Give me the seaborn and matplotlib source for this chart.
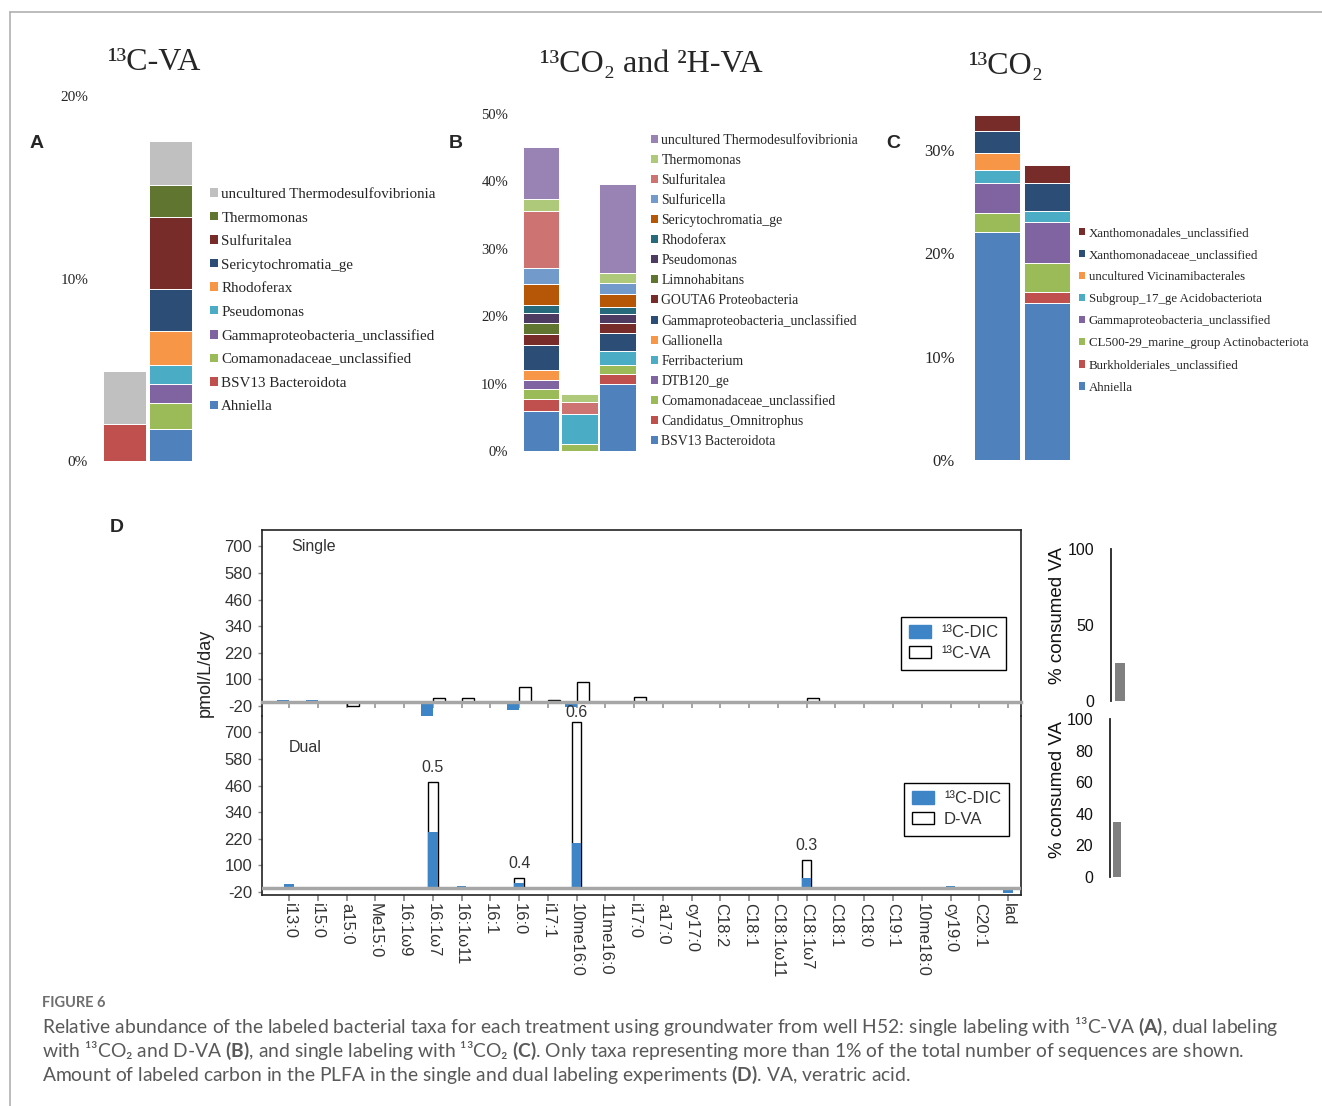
import matplotlib
matplotlib.use("Agg")
import matplotlib.pyplot as plt
from matplotlib.patches import Patch
from matplotlib.lines import Line2D
import seaborn as sns
import numpy as np

# ---------------- data ----------------
# panel A: 13C-VA
taxa_a = ["Ahniella", "BSV13 Bacteroidota", "Comamonadaceae_unclassified",
          "Gammaproteobacteria_unclassified", "Pseudomonas", "Rhodoferax",
          "Sericytochromatia_ge", "Sulfuritalea", "Thermomonas",
          "uncultured Thermodesulfovibrionia"]
a_bar1 = [0, 2.05, 0, 0, 0, 0, 0, 0, 0, 2.9]
a_bar2 = [1.75, 0, 1.45, 1.0, 1.05, 1.9, 2.3, 3.9, 1.75, 2.45]
colors_a = ["#4F81BD", "#C0504D", "#9BBB59", "#8064A2", "#4BACC6", "#F79646",
            "#2C4D75", "#772C2A", "#5F7530", "#C0C0C0"]

# panel B: 13CO2 and 2H-VA
taxa_b = ["BSV13 Bacteroidota", "Candidatus_Omnitrophus", "Comamonadaceae_unclassified",
          "DTB120_ge", "Ferribacterium", "Gallionella", "Gammaproteobacteria_unclassified",
          "GOUTA6 Proteobacteria", "Limnohabitans", "Pseudomonas", "Rhodoferax",
          "Sericytochromatia_ge", "Sulfuricella", "Sulfuritalea", "Thermomonas",
          "uncultured Thermodesulfovibrionia"]
b_bar1 = [6.0, 1.75, 1.5, 1.3, 0, 1.45, 3.7, 1.6, 1.7, 1.5, 1.1, 3.25, 2.3, 8.4, 1.9, 7.65]
b_bar2 = [0, 0, 1.1, 0, 4.35, 0, 0, 0, 0, 0, 0, 0, 0, 1.85, 1.2, 0]
b_bar3 = [9.9, 1.5, 1.3, 0, 2.15, 0, 2.6, 1.6, 0, 1.25, 1.1, 1.9, 1.7, 0, 1.4, 13.2]
colors_b = ["#4F81BD", "#C0504D", "#9BBB59", "#8064A2", "#4BACC6", "#F79646",
            "#2C4D75", "#772C2A", "#5F7530", "#4D3B62", "#276A7C", "#B65708",
            "#729ACA", "#CD7371", "#AFC97A", "#9983B5"]

# panel C: 13CO2
taxa_c = ["Ahniella", "Burkholderiales_unclassified", "CL500-29_marine_group Actinobacteriota",
          "Gammaproteobacteria_unclassified", "Subgroup_17_ge Acidobacteriota",
          "uncultured Vicinamibacterales", "Xanthomonadaceae_unclassified",
          "Xanthomonadales_unclassified"]
c_bar1 = [22.0, 0, 1.85, 2.95, 1.2, 1.7, 2.15, 1.55]
c_bar2 = [15.15, 1.1, 2.8, 4.0, 1.05, 0, 2.7, 1.7]
colors_c = ["#4F81BD", "#C0504D", "#9BBB59", "#8064A2", "#4BACC6", "#F79646",
            "#2C4D75", "#772C2A"]

# panel D: PLFA labelling (pmol/L/day)
fa = ["i13:0", "i15:0", "a15:0", "Me15:0", "16:1ω9", "16:1ω7", "16:1ω11", "16:1",
      "16:0", "i17:1", "10me16:0", "11me16:0", "i17:0", "a17:0", "cy17:0", "C18:2",
      "C18:1", "C18:1ω11", "C18:1ω7", "C18:1", "C18:0", "C19:1", "10me18:0",
      "cy19:0", "C20:1", "lad"]
single_dic = [6, 5, -8, -4, -7, -93, -5, 0, -38, 0, -23, 0, 0, 0, -5, 0, 0, 0, 3,
              0, 4, 0, 4, 0, 0, -10]
single_va = [0, -4, -22, 0, 0, 15, 14, 0, 67, 5, 87, 0, 20, 0, 0, 0, 0, 0, 18,
             0, 0, 0, 0, 0, 0, 0]
dual_dic = [15, 0, 0, 0, -13, 249, 5, 0, 22, 0, 203, 0, 0, 0, 0, 0, 0, 0, 45,
            0, 0, 0, 0, 9, 0, -25]
dual_va = [0, 0, 0, 0, 0, 229, 0, 0, 21, 0, 546, 0, 0, 0, 0, 0, 0, 0, 78,
           0, 0, 0, 0, 0, 0, 0]
dual_ratio = ["", "", "", "", "", "0.5", "", "", "0.4", "", "0.6", "", "", "", "",
              "", "", "", "0.3", "", "", "", "", "", "", ""]
d_yticks = [-20, 100, 220, 340, 460, 580, 700]

consumed_single = 25
consumed_dual = 35

# ---------------- style ----------------
W, H = 1322, 1106
sns.set_theme(style="white")
SERIF = ["Liberation Serif", "DejaVu Serif"]
SANS = ["Liberation Sans", "DejaVu Sans"]
plt.rcParams["font.family"] = SANS
plt.rcParams["mathtext.fontset"] = "custom"
plt.rcParams["mathtext.rm"] = "Lato"
plt.rcParams["mathtext.bf"] = "Lato:bold"
plt.rcParams["mathtext.it"] = "Lato:italic"

BLUE = "#3d85c6"
fig = plt.figure(figsize=(W / 100, H / 100), dpi=100)


def rect(x0, y0, x1, y1):
    return [x0 / W, 1 - y1 / H, (x1 - x0) / W, (y1 - y0) / H]


def fx(x):
    return x / W


def fy(y):
    return 1 - y / H


def stacked_panel(box, xlim, ylim, ticks, bars, taxa, colors, width, ticksize,
                  leg_xy, leg_size, leg_spacing):
    ax = fig.add_axes(rect(*box))
    for i, vals in enumerate(bars):
        bottom = 0
        for t, v, c in zip(taxa, vals, colors):
            if v > 0:
                ax.bar(i, v, bottom=bottom, width=width, color=c,
                       edgecolor="white", linewidth=0.7)
                bottom += v
    ax.set_xlim(*xlim)
    ax.set_ylim(*ylim)
    ax.set_xticks([])
    ax.set_yticks(ticks)
    ax.set_yticklabels([f"{t}%" for t in ticks], family=SERIF, fontsize=ticksize)
    ax.tick_params(axis="y", length=0, pad=5)
    sns.despine(ax=ax, left=True, bottom=True)
    ax.set_facecolor("none")
    handles = [Patch(facecolor=c, edgecolor="none", label=t)
               for t, c in zip(taxa[::-1], colors[::-1])]
    ax.legend(handles=handles, loc="upper left", bbox_to_anchor=(fx(leg_xy[0]), fy(leg_xy[1])),
              bbox_transform=fig.transFigure, frameon=False,
              prop={"family": SERIF, "size": leg_size}, handlelength=0.5,
              handleheight=0.5, handletextpad=0.25, labelspacing=leg_spacing,
              borderpad=0, borderaxespad=0)
    return ax


stacked_panel((95, 96, 200, 461), (-0.641, 1.641), (0, 20), [0, 10, 20],
              [a_bar1, a_bar2], taxa_a, colors_a, 0.94, 11,
              (210, 188), 10.8, 0.7)
stacked_panel((515, 114, 645, 451), (-0.68, 2.72), (0, 50), [0, 10, 20, 30, 40, 50],
              [b_bar1, b_bar2, b_bar3], taxa_b, colors_b, 0.96, 10.5,
              (651, 134), 9.9, 0.51)
stacked_panel((962, 98, 1080, 460), (-0.694, 1.652), (0, 35), [0, 10, 20, 30],
              [c_bar1, c_bar2], taxa_c, colors_c, 0.92, 12,
              (1079, 227), 9.3, 0.78)

# titles and panel letters
fig.text(fx(155), fy(63), "¹³C-VA", ha="center", va="center", family=SERIF, fontsize=23)
fig.text(fx(651), fy(65), "¹³CO₂ and ²H-VA", ha="center", va="center", family=SERIF, fontsize=23)
fig.text(fx(1006), fy(66), "¹³CO₂", ha="center", va="center", family=SERIF, fontsize=23)
for lab, x, y in [("A", 37, 144), ("B", 456, 144), ("C", 893, 144), ("D", 117, 528)]:
    fig.text(fx(x), fy(y), lab, ha="center", va="center", fontsize=14, weight="bold")

# ---------------- panel D ----------------
pos = np.arange(len(fa))
axs = fig.add_axes(rect(262, 530, 1021, 716))
axd = fig.add_axes(rect(262, 716, 1021, 895))

sns.barplot(x=pos - 0.21, y=single_dic, native_scale=True, width=0.42, color=BLUE,
            saturation=1, linewidth=0, errorbar=None, ax=axs)
sns.barplot(x=pos + 0.21, y=single_va, native_scale=True, width=0.42, color="white",
            saturation=1, edgecolor="black", linewidth=1, errorbar=None, ax=axs)

dual_total = [d + v if v > 0 else 0 for d, v in zip(dual_dic, dual_va)]
sns.barplot(x=pos, y=dual_total, native_scale=True, width=0.33, color="white",
            saturation=1, edgecolor="black", linewidth=1, errorbar=None, ax=axd)
sns.barplot(x=pos, y=dual_dic, native_scale=True, width=0.33, color=BLUE,
            saturation=1, linewidth=0, errorbar=None, ax=axd)
for p, tot, lab in zip(pos, dual_total, dual_ratio):
    if lab:
        off = 1 if tot > 600 else 5
        axd.annotate(lab, (p, tot), xytext=(0, off), textcoords="offset points",
                     ha="center", va="bottom", fontsize=11.5, color="#333333",
                     annotation_clip=False, zorder=10)
axd.axhline(0, color="#a6a6a6", lw=2.5, zorder=3)

for ax in (axs, axd):
    ax.set_xlim(-0.94, 25.45)
    ax.set_facecolor("none")
    ax.set_yticks(d_yticks)
    ax.set_yticklabels([str(t) for t in d_yticks], fontsize=12, color="#333333")
    ax.tick_params(axis="y", direction="out", length=3, width=1, color="#888888",
                   pad=4, left=True)
    for s in ax.spines.values():
        s.set_color("#222222")
        s.set_linewidth(1.2)
    ax.set_xlabel("")
    ax.set_ylabel("")
    ax.set_xticks(pos)

axs.set_ylim(-65, 774)
axd.set_ylim(-33.4, 774)
axs.spines["bottom"].set_position(("data", 0))
axs.spines["bottom"].set_color("#a6a6a6")
axs.spines["bottom"].set_linewidth(2.5)
axs.tick_params(axis="x", direction="out", length=4, color="#999999", bottom=True,
                labelbottom=False)
axd.spines["top"].set_visible(False)
axd.set_xticklabels(fa, rotation=270, fontsize=12, color="#333333", va="top", ha="center")
axd.tick_params(axis="x", direction="out", length=4, color="#888888", bottom=True, pad=2)

fig.text(fx(291), fy(547), "Single", ha="left", va="center", fontsize=11.5, color="#333333")
fig.text(fx(289), fy(747), "Dual", ha="left", va="center", fontsize=11.5, color="#333333")
fig.text(fx(205), fy(673), "pmol/L/day", rotation=90, ha="center", va="center",
         fontsize=13, color="#222222")

for ax, loc_y, labels in [(axs, 617, ["¹³C-DIC", "¹³C-VA"]), (axd, 783, ["¹³C-DIC", "D-VA"])]:
    hd = [Patch(facecolor=BLUE, edgecolor=BLUE, label=labels[0]),
          Patch(facecolor="white", edgecolor="black", label=labels[1])]
    leg = ax.legend(handles=hd, loc="upper left",
                    bbox_to_anchor=(fx(901 if ax is axs else 904), fy(loc_y)),
                    bbox_transform=fig.transFigure, frameon=True, fancybox=False,
                    edgecolor="black", fontsize=12, handlelength=1.3, handleheight=0.75,
                    borderpad=0.5, labelspacing=0.35, handletextpad=0.6, borderaxespad=0,
                    framealpha=1)
    leg.get_frame().set_linewidth(1.0)
    for t in leg.get_texts():
        t.set_color("#333333")

# % consumed VA mini bars
for box, xlim, width, val, ticks, lab_y in [
        ((1111, 549, 1130, 701), (-0.45, 0.5), 0.5, consumed_single, [0, 50, 100], 615),
        ((1110, 719, 1129, 877), (-0.35, 0.6), 0.4, consumed_dual, [0, 20, 40, 60, 80, 100], 790)]:
    axm = fig.add_axes(rect(*box))
    sns.barplot(x=[0], y=[val], native_scale=True, width=width, color="#808080",
                saturation=1, linewidth=0, errorbar=None, ax=axm)
    axm.set_xlim(*xlim)
    axm.set_ylim(0, 100)
    axm.set_xticks([])
    axm.set_yticks(ticks)
    axm.set_yticklabels([str(t) for t in ticks], fontsize=11.5, color="#111111")
    axm.tick_params(axis="y", length=0, pad=12)
    sns.despine(ax=axm, bottom=True)
    axm.spines["left"].set_color("#222222")
    axm.spines["left"].set_linewidth(1.3)
    axm.set_facecolor("none")
    axm.set_xlabel("")
    axm.set_ylabel("")
    fig.text(fx(box[0] - 53), fy(lab_y), "% consumed VA", rotation=90, ha="center",
             va="center", fontsize=13.5, color="#111111")

# ---------------- caption and border ----------------
fig.add_artist(Line2D([fx(10), 1], [fy(12), fy(12)], color="#b0b0b0", lw=1.2))
fig.add_artist(Line2D([fx(10), fx(10)], [fy(12), 0], color="#b0b0b0", lw=1.2))

CAP = ["Lato", "DejaVu Sans"]
fig.text(fx(42), fy(1003), "FIGURE 6", ha="left", va="center", family=CAP,
         fontsize=10.5, color="#6f6f6f", weight="bold")
caption = [
    "Relative abundance of the labeled bacterial taxa for each treatment using groundwater "
    "from well H52: single labeling with ¹³C-VA $\\mathbf{(A)}$, dual labeling",
    "with ¹³CO₂ and D-VA $\\mathbf{(B)}$, and single labeling with ¹³CO₂ $\\mathbf{(C)}$. "
    "Only taxa representing more than 1% of the total number of sequences are shown.",
    "Amount of labeled carbon in the PLFA in the single and dual labeling experiments "
    "$\\mathbf{(D)}$. VA, veratric acid.",
]
for i, line in enumerate(caption):
    fig.text(fx(42), fy(1027 + 24 * i), line, ha="left", va="center", family=CAP,
             fontsize=13.9, color="#595959")

fig.savefig("out.png", dpi=100)
